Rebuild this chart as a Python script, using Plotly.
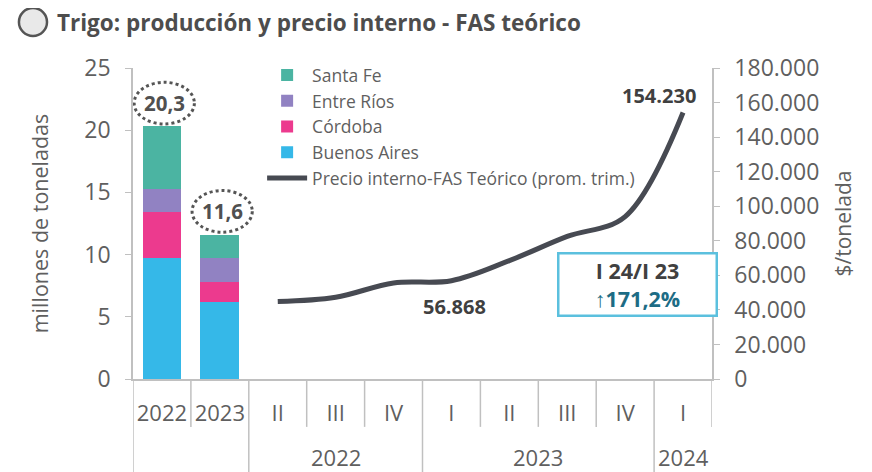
import plotly.graph_objects as go

# ---------------- data ----------------
bar_categories = ["2022", "2023"]
santa_fe = [5.0, 1.9]
entre_rios = [1.9, 1.9]
cordoba = [3.7, 1.6]
buenos_aires = [9.7, 6.2]
bar_totals = [20.3, 11.6]
bar_total_labels = ["20,3", "11,6"]

quarter_labels = ["II", "III", "IV", "I", "II", "III", "IV", "I"]
quarter_years = ["2022", "2022", "2022", "2023", "2023", "2023", "2023", "2024"]
precio_fas = [44800, 47300, 55600, 56868, 68500, 82500, 94000, 154230]

left_ticks = [0, 5, 10, 15, 20, 25]
right_ticks = [0, 20000, 40000, 60000, 80000, 100000, 120000, 140000, 160000, 180000]

# ---------------- styles ----------------
FONT = "Open Sans"
GREY_TXT = "#5f5f5f"
DARK_TXT = "#404040"
AXIS_GREY = "#c0c0c0"
C_SF = "#4bb4a2"
C_ER = "#9182c2"
C_CO = "#ec3a8e"
C_BA = "#35b8e8"
C_LINE = "#474a52"

# page body has an 8px margin: figure is drawn 8px in from the window corner
W, H = 864, 464

line_keys = [f"{q} {y}" for q, y in zip(quarter_labels, quarter_years)]
all_cats = bar_categories + line_keys
tick_text = bar_categories + quarter_labels

fig = go.Figure()

for name, vals, col, rank in [
    ("Buenos Aires", buenos_aires, C_BA, 4),
    ("Córdoba", cordoba, C_CO, 3),
    ("Entre Ríos", entre_rios, C_ER, 2),
    ("Santa Fe", santa_fe, C_SF, 1),
]:
    fig.add_trace(go.Bar(x=bar_categories, y=vals, name=name, marker_color=col,
                         marker_line_width=0, legendrank=rank))

fig.add_trace(go.Scatter(x=line_keys, y=precio_fas, yaxis="y2", mode="lines",
                         name="Precio interno-FAS Teórico (prom. trim.)",
                         line=dict(color=C_LINE, width=5, shape="spline", smoothing=1.0),
                         legendrank=5))

shapes = []
annotations = []

# category separators (inner row) and group dividers (full height)
n = len(all_cats)
group_of = ["bars"] * len(bar_categories) + quarter_years
for i in range(-1, n):
    b = i + 0.5
    left_g = group_of[i] if i >= 0 else None
    right_g = group_of[i + 1] if i + 1 < n else None
    full = (left_g != right_g) and right_g is not None
    shapes.append(dict(type="line", xref="x", yref="paper", x0=b, x1=b,
                       y0=0, y1=-0.299 if full else -0.154,
                       line=dict(color=AXIS_GREY, width=1.5)))

# year labels under groups
for yr in dict.fromkeys(quarter_years):
    idx = [len(bar_categories) + k for k, y in enumerate(quarter_years) if y == yr]
    annotations.append(dict(x=sum(idx) / len(idx), y=-0.25, xref="x", yref="paper",
                            text=yr, showarrow=False, yanchor="middle",
                            font=dict(family=FONT, size=22, color=GREY_TXT)))

# bar totals with dotted ellipses
for i, (tot, lab) in enumerate(zip(bar_totals, bar_total_labels)):
    shapes.append(dict(type="circle", xref="x", yref="y",
                       x0=i - 0.48, x1=i + 0.56, y0=tot + 0.2, y1=tot + 3.55,
                       line=dict(color="#555555", width=3, dash="dot")))
    annotations.append(dict(x=i + 0.04, y=tot + 1.88, xref="x", yref="y",
                            text=f"<b>{lab}</b>",
                            showarrow=False, yanchor="middle",
                            font=dict(family=FONT, size=20.5, color="#505050")))

# line value labels
annotations.append(dict(x=line_keys[-1], y=precio_fas[-1], xref="x", yref="y2",
                        text="<b>154.230</b>", showarrow=False, xshift=-24, yshift=17,
                        font=dict(family=FONT, size=20, color=DARK_TXT)))
annotations.append(dict(x=line_keys[3], y=precio_fas[3], xref="x", yref="y2",
                        text="<b>56.868</b>", showarrow=False, xshift=3, yshift=-26,
                        font=dict(family=FONT, size=20, color=DARK_TXT)))

# variation box
annotations.append(dict(x=0.871, y=0.305, xref="paper", yref="paper",
                        xanchor="center", yanchor="middle",
                        text="<b>I 24/I 23</b><br><b><span style='color:#1d6c85'>↑171,2%</span></b>",
                        showarrow=False, align="center", width=154, height=58,
                        bgcolor="white", bordercolor="#5bc0de", borderwidth=2.5,
                        font=dict(family=FONT, size=21.5, color=DARK_TXT)))

# title icon
shapes.append(dict(type="circle", xref="paper", yref="paper",
                   x0=-0.197, x1=-0.1485, y0=1.103, y1=1.193,
                   fillcolor="#e9e9e9", line=dict(color="#555555", width=2.5)))

fig.update_layout(
    width=W, height=H,
    margin=dict(l=125, r=160, t=60, b=93),
    paper_bgcolor="white", plot_bgcolor="white",
    separators=",.",
    barmode="stack", bargap=0.33,
    font=dict(family=FONT, color=GREY_TXT),
    title=dict(text="<b>Trigo: producción y precio interno - FAS teórico</b>",
               x=49 / W, xanchor="left", y=1 - 15 / H, yanchor="middle",
               font=dict(family=FONT, size=22.5, color="#4d4d4d")),
    showlegend=True,
    legend=dict(x=0.223, y=1.035, xanchor="left", yanchor="top", traceorder="normal",
                bgcolor="rgba(0,0,0,0)", font=dict(family=FONT, size=17.5, color=GREY_TXT),
                tracegroupgap=0, itemwidth=40),
    xaxis=dict(type="category", categoryorder="array", categoryarray=all_cats,
               tickmode="array", tickvals=all_cats, ticktext=tick_text,
               range=[-0.5, n - 0.5], showline=True, linecolor=AXIS_GREY, linewidth=1.5,
               ticks="", showgrid=False, zeroline=False,
               tickfont=dict(family=FONT, size=22, color=GREY_TXT), ticklabelstandoff=14),
    yaxis=dict(range=[0, 25], tickvals=left_ticks, showgrid=False, zeroline=False,
               showline=True, linecolor=AXIS_GREY, linewidth=1.5,
               ticks="outside", ticklen=6, tickcolor=AXIS_GREY,
               tickfont=dict(family=FONT, size=23, color=GREY_TXT), ticklabelstandoff=10,
               title=dict(text="millones de toneladas", standoff=30,
                          font=dict(family=FONT, size=21.5, color=GREY_TXT))),
    yaxis2=dict(range=[0, 180000], tickvals=right_ticks, tickformat=",d",
                overlaying="y", side="right", showgrid=False, zeroline=False,
                showline=True, linecolor=AXIS_GREY, linewidth=1.5,
                ticks="outside", ticklen=6, tickcolor=AXIS_GREY,
                tickfont=dict(family=FONT, size=23, color=GREY_TXT), ticklabelstandoff=10,
                title=dict(text="$/tonelada", standoff=18,
                           font=dict(family=FONT, size=21, color=GREY_TXT))),
    shapes=shapes,
    annotations=annotations,
)

fig.write_html("out.html")
